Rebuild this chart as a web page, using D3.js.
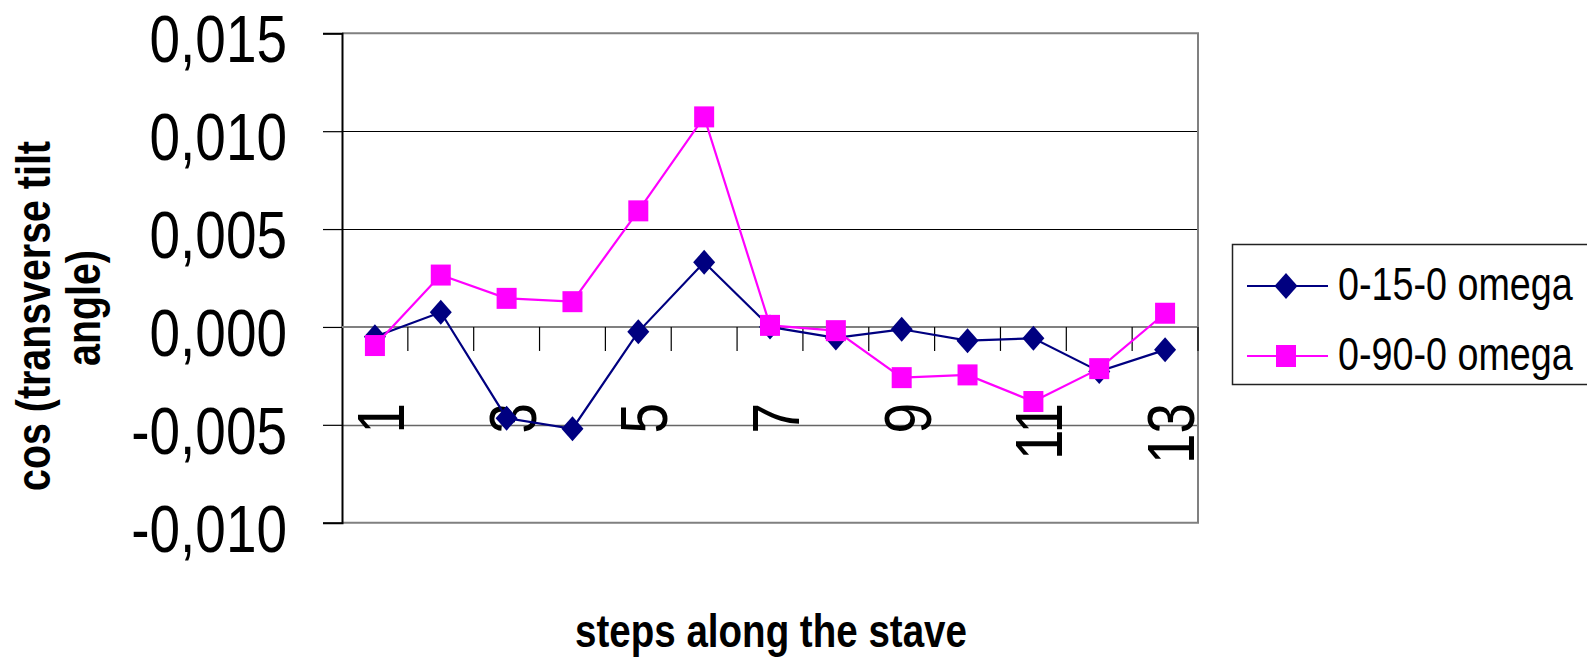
<!DOCTYPE html>
<html>
<head>
<meta charset="utf-8">
<script src="https://cdn.jsdelivr.net/npm/d3@7"></script>
<style>
html,body{margin:0;padding:0;background:#fff;overflow:hidden;}
svg{display:block;}
</style>
</head>
<body>
<svg id="chart" width="1587" height="660"></svg>
<script>
// ---- data ----
const categories = [1,2,3,4,5,6,7,8,9,10,11,12,13];
const xTickLabels = ["1","","3","","5","","7","","9","","11","","13"];
const seriesNames = ["0-15-0 omega","0-90-0 omega"];
const omega15 = [-0.0005, 0.00075, -0.00466, -0.0052, -0.00025, 0.0033, 0.0000, -0.00056, -0.00012, -0.0007, -0.00058, -0.00227, -0.00117];
const omega90 = [-0.00095, 0.00265, 0.00146, 0.00129, 0.00593, 0.01073, 0.00008, -0.00019, -0.00259, -0.00245, -0.00381, -0.00213, 0.0007];
const yTicks = [-0.010, -0.005, 0.000, 0.005, 0.010, 0.015];
const yTickLabels = ["-0,010","-0,005","0,000","0,005","0,010","0,015"];
const yTitleLines = ["cos (transverse tilt","angle)"];
const xTitle = "steps along the stave";

// ---- font detection ----
const svg = d3.select("#chart");
function measure(fam){
  const t = svg.append("text").attr("font-family", fam).attr("font-size", 100).text("0,015 omega");
  const w = t.node().getComputedTextLength(); t.remove(); return w;
}
const hasNarrow = measure("'Liberation Sans Narrow', monospace") !== measure("monospace");
const FAM = hasNarrow ? "'Liberation Sans Narrow', 'Liberation Sans', Arial, sans-serif" : "'Liberation Sans', Arial, sans-serif";
const SX = hasNarrow ? 1 : 0.82;

function addText(parent, x, y, str, opts){
  const g = parent.append("g").attr("transform", `translate(${x},${y})` + (opts.rotate ? ` rotate(${opts.rotate})` : "") + ` scale(${SX},1)`);
  g.append("text")
    .attr("font-family", FAM)
    .attr("font-size", opts.size)
    .attr("font-weight", opts.bold ? "bold" : "normal")
    .attr("text-anchor", opts.anchor || "start")
    .attr("fill", "#000")
    .attr("letter-spacing", opts.ls || 0)
    .text(str);
  return g;
}

// ---- layout ----
const L = 342, R = 1198, T = 33.3, B = 522.7;
const x = d3.scaleBand().domain(categories).range([L, R]);
const y = d3.scaleLinear().domain([-0.010, 0.015]).range([B, T]);
const cx = d => x(d) + x.bandwidth()/2;

// gridlines
svg.append("g").selectAll("line").data([0.010, 0.005, -0.005]).join("line")
  .attr("x1", L).attr("x2", R)
  .attr("y1", d => Math.round(y(d)) + 0.5).attr("y2", d => Math.round(y(d)) + 0.5)
  .attr("stroke", d => d === -0.005 ? "#666" : "#000")
  .attr("stroke-width", d => d === -0.005 ? 1.6 : 1.2);

// plot border (top, right, bottom) gray
svg.append("path")
  .attr("d", `M${L},${T}H${R}V${B}H${L}`)
  .attr("fill", "none").attr("stroke", "#808080").attr("stroke-width", 2);

// y axis
const yAxis = d3.axisLeft(y).tickValues(yTicks).tickSize(19).tickFormat("");
const yg = svg.append("g").attr("transform", `translate(${L},0)`).call(yAxis);
yg.select(".domain").attr("stroke", "#000").attr("stroke-width", 2);
yg.selectAll(".tick line").attr("stroke", "#000").attr("stroke-width", 1.2);
yTicks.forEach((v, i) => addText(svg, 287, y(v) + 29, yTickLabels[i], {size: 67, anchor: "end"}));

// x axis (zero line) with ticks at category boundaries
svg.append("line").attr("x1", L).attr("x2", R).attr("y1", y(0)).attr("y2", y(0))
  .attr("stroke", "#808080").attr("stroke-width", 2);
const boundaries = categories.map(c => x(c) + x.bandwidth());
svg.append("g").selectAll("line").data(boundaries).join("line")
  .attr("x1", d => d).attr("x2", d => d)
  .attr("y1", y(0)).attr("y2", y(0) + 24)
  .attr("stroke", "#000").attr("stroke-width", 1.2);

// x tick labels (rotated)
categories.forEach((c, i) => {
  if (xTickLabels[i]) addText(svg, cx(c) + 29, 403, xTickLabels[i], {size: 67, anchor: "end", rotate: -90});
});

// ---- series ----
const NAVY = "#000080", MAG = "#FF00FF";
const line = d3.line().x((d, i) => cx(categories[i])).y(d => y(d));
const diamond = (w, h) => `M0,${-h/2}L${w/2},0L0,${h/2}L${-w/2},0Z`;

function drawSeries(vals, color, shape){
  svg.append("path").datum(vals).attr("d", line)
    .attr("fill", "none").attr("stroke", color).attr("stroke-width", 2.2);
  const g = svg.append("g");
  vals.forEach((v, i) => {
    const px = cx(categories[i]), py = y(v);
    if (shape === "diamond") {
      g.append("path").attr("d", diamond(22, 25)).attr("transform", `translate(${px},${py})`).attr("fill", color);
    } else {
      g.append("rect").attr("x", px - 10).attr("y", py - 10.5).attr("width", 20).attr("height", 21).attr("fill", color);
    }
  });
}
drawSeries(omega15, NAVY, "diamond");
drawSeries(omega90, MAG, "square");

// ---- axis titles ----
const yt = svg.append("g");
addText(yt, 50, 316, yTitleLines[0], {size: 48, bold: true, anchor: "middle", rotate: -90});
addText(yt, 100, 308, yTitleLines[1], {size: 48, bold: true, anchor: "middle", rotate: -90});
addText(svg, 771, 647, xTitle, {size: 47, bold: true, anchor: "middle"});

// ---- legend ----
svg.append("rect").attr("x", 1232.5).attr("y", 244.5).attr("width", 400).attr("height", 140)
  .attr("fill", "#fff").attr("stroke", "#222").attr("stroke-width", 1.5);
const legendY = [286, 356];
const legendColors = [NAVY, MAG];
seriesNames.forEach((name, i) => {
  const ly = legendY[i];
  svg.append("line").attr("x1", 1247).attr("x2", 1328).attr("y1", ly).attr("y2", ly)
    .attr("stroke", legendColors[i]).attr("stroke-width", 2.2);
  if (i === 0) {
    svg.append("path").attr("d", diamond(23, 26)).attr("transform", `translate(1286,${ly})`).attr("fill", NAVY);
  } else {
    svg.append("rect").attr("x", 1276).attr("y", ly - 11).attr("width", 20).attr("height", 22).attr("fill", MAG);
  }
  addText(svg, 1338, ly + 14, name, {size: 46, anchor: "start", ls: 0});
});
</script>
</body>
</html>
